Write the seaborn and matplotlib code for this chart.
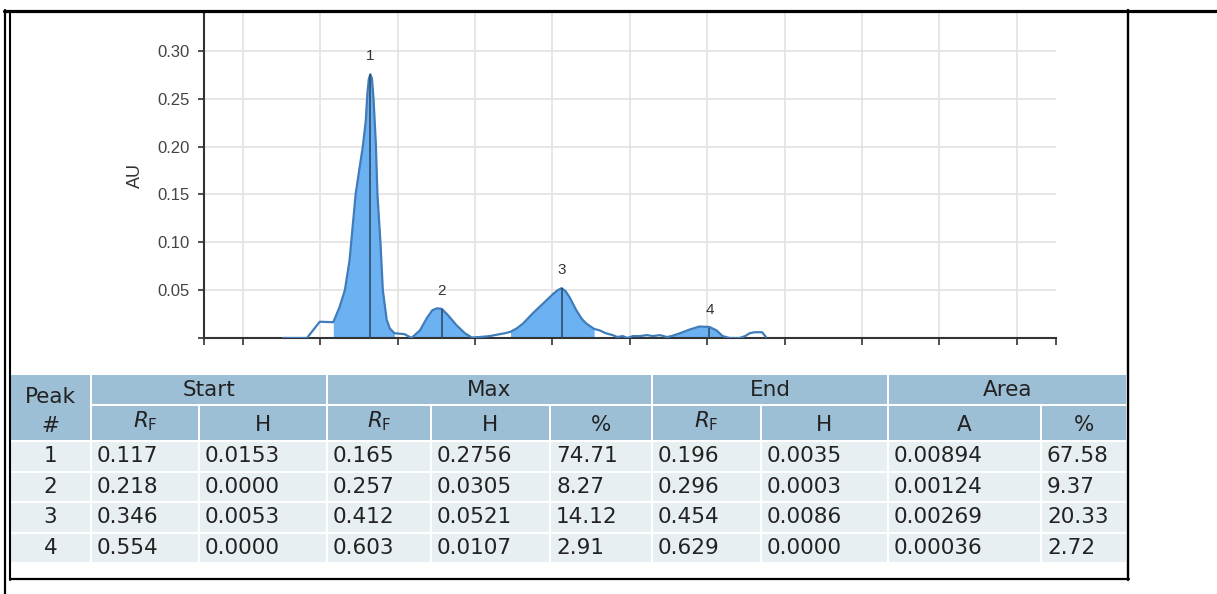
import numpy as np
import pandas as pd
import matplotlib
matplotlib.use("Agg")
import matplotlib.pyplot as plt
import seaborn as sns
from matplotlib.patches import Rectangle
from matplotlib.lines import Line2D

# ---------------- data ----------------
rf = [0.052, 0.083, 0.0995, 0.117, 0.125, 0.132, 0.138, 0.142, 0.146, 0.151,
      0.155, 0.159, 0.161, 0.163, 0.165, 0.167, 0.169, 0.172, 0.174, 0.178,
      0.181, 0.186, 0.190, 0.196, 0.209, 0.216, 0.218, 0.229, 0.238, 0.245,
      0.251, 0.257, 0.265, 0.276, 0.287, 0.296, 0.306, 0.319, 0.332, 0.339,
      0.346, 0.354, 0.362, 0.375, 0.388, 0.401, 0.407, 0.412, 0.417, 0.422,
      0.431, 0.438, 0.444, 0.454, 0.461, 0.469, 0.478, 0.484, 0.491, 0.497,
      0.504, 0.513, 0.522, 0.530, 0.539, 0.548, 0.554, 0.565, 0.578, 0.590,
      0.603, 0.612, 0.620, 0.629, 0.642, 0.649, 0.655, 0.661, 0.671, 0.676]
au = [0.000, 0.000, 0.017, 0.0165, 0.032, 0.050, 0.081, 0.116, 0.151, 0.178,
      0.199, 0.227, 0.255, 0.271, 0.2756, 0.271, 0.250, 0.203, 0.151, 0.099,
      0.050, 0.019, 0.010, 0.005, 0.004, 0.001, 0.000, 0.008, 0.021, 0.029,
      0.031, 0.0305, 0.024, 0.0135, 0.005, 0.0005, 0.001, 0.002, 0.004, 0.005,
      0.0065, 0.010, 0.015, 0.026, 0.036, 0.046, 0.050, 0.0521, 0.049, 0.043,
      0.029, 0.020, 0.015, 0.0095, 0.008, 0.005, 0.003, 0.001, 0.002, 0.000,
      0.002, 0.002, 0.003, 0.002, 0.003, 0.001, 0.002, 0.005, 0.009, 0.012,
      0.0115, 0.008, 0.002, 0.000, 0.000, 0.002, 0.005, 0.006, 0.006, 0.001]

peak_ids = [1, 2, 3, 4]
start_rf = [0.117, 0.218, 0.346, 0.554]
start_h = [0.0153, 0.0000, 0.0053, 0.0000]
max_rf = [0.165, 0.257, 0.412, 0.603]
max_h = [0.2756, 0.0305, 0.0521, 0.0107]
max_pct = [74.71, 8.27, 14.12, 2.91]
end_rf = [0.196, 0.296, 0.454, 0.629]
end_h = [0.0035, 0.0003, 0.0086, 0.0000]
area_a = [0.00894, 0.00124, 0.00269, 0.00036]
area_pct = [67.58, 9.37, 20.33, 2.72]

y_ticks = [0.0, 0.05, 0.10, 0.15, 0.20, 0.25, 0.30]
x_grid = [0.0, 0.1, 0.2, 0.3, 0.4, 0.5, 0.6, 0.7, 0.8, 0.9, 1.0]

group_labels = ["Start", "Max", "End", "Area"]
sub_labels = [r"$\mathit{R}_\mathrm{F}$", "H", r"$\mathit{R}_\mathrm{F}$", "H", "%",
              r"$\mathit{R}_\mathrm{F}$", "H", "A", "%"]

# ---------------- style ----------------
sns.set_style("white")
plt.rcParams["font.family"] = ["Liberation Sans", "DejaVu Sans"]
plt.rcParams["mathtext.fontset"] = "dejavusans"

W, H = 1217, 594
fig = plt.figure(figsize=(W / 100, H / 100), dpi=100)
fig.patch.set_facecolor("white")

def px_box(x0, y0, x1, y1):
    return [x0 / W, (H - y1) / H, (x1 - x0) / W, (y1 - y0) / H]

ax = fig.add_axes(px_box(204, 12.7, 1055.5, 338))

line_col = "#3f7cb9"
fill_col = "#6cb2f3"
peak_col = "#2c4d6d"
grid_col = "#e2e2e2"

df = pd.DataFrame({"Rf": rf, "AU": au})
x = np.array(rf)
y = np.array(au)
for s, e in zip(start_rf, end_rf):
    m = (x >= s - 1e-9) & (x <= e + 1e-9)
    ax.fill_between(x[m], 0, y[m], color=fill_col, lw=0, zorder=2)

sns.lineplot(data=df, x="Rf", y="AU", ax=ax, color=line_col, linewidth=1.6,
             estimator=None, sort=False, zorder=3)

for pid, mx, mh in zip(peak_ids, max_rf, max_h):
    ax.vlines(mx, 0, mh, color=peak_col, linewidth=1.2, zorder=4)
    ax.annotate(str(pid), (mx, mh), xytext=(0, 8), textcoords="offset points",
                ha="center", va="bottom", fontsize=11, color="#333333")

ax.set_xlim(-0.05, 1.05)
ax.set_ylim(0, 0.34)
for gx in x_grid:
    ax.axvline(gx, color=grid_col, lw=1.2, zorder=0)
for gy in y_ticks[1:]:
    ax.axhline(gy, color=grid_col, lw=1.2, zorder=0)

ax.set_xticks([-0.05] + x_grid + [1.05])
ax.set_xticklabels([])
ax.set_yticks(y_ticks)
ax.set_yticklabels([""] + [f"{v:.2f}" for v in y_ticks[1:]])
ax.tick_params(axis="y", direction="out", length=4.5, width=1.2, color="#333333",
               labelsize=12, labelcolor="#444444", pad=5.5, left=True)
ax.tick_params(axis="x", direction="out", length=5, width=1.2, color="#333333",
               bottom=True)
for sp in ["top", "right"]:
    ax.spines[sp].set_visible(False)
for sp in ["left", "bottom"]:
    ax.spines[sp].set_color("#333333")
    ax.spines[sp].set_linewidth(1.5)
ax.set_xlabel("")
ax.set_ylabel("AU", fontsize=13, color="#333333")
ax.yaxis.set_label_coords(-0.070, 0.5)

# ---------------- overlay (table + borders) ----------------
ov = fig.add_axes([0, 0, 1, 1])
ov.set_xlim(0, W)
ov.set_ylim(H, 0)
ov.axis("off")

hdr = "#9dbfd5"
row_bg = "#e8eff3"
txt = "#222222"
tfs = 15.5

cols = [10, 91, 199, 327, 431, 550, 652, 761, 888, 1041, 1127]
groups = [(1, 3), (3, 6), (6, 8), (8, 10)]
h1 = (374, 405)
h2 = (405, 441)
rows = [(441, 471.5), (471.5, 502), (502, 532.5), (532.5, 563)]

def cell(x0, x1, y0, y1, color):
    ov.add_patch(Rectangle((x0 + 1, y0 + 1), x1 - x0 - 2, y1 - y0 - 2,
                           facecolor=color, edgecolor="none"))

# Peak # header cell (spans two rows)
cell(cols[0], cols[1], h1[0], h2[1], hdr)
ov.text((cols[0] + cols[1]) / 2, 397, "Peak", ha="center", va="center",
        fontsize=tfs, color=txt, family="DejaVu Sans")
ov.text((cols[0] + cols[1]) / 2, 426, "#", ha="center", va="center",
        fontsize=tfs, color=txt, family="DejaVu Sans")
for (a, b), lab in zip(groups, group_labels):
    cell(cols[a], cols[b], h1[0], h1[1], hdr)
    ov.text((cols[a] + cols[b]) / 2, (h1[0] + h1[1]) / 2, lab, ha="center",
            va="center", fontsize=tfs, color=txt, family="DejaVu Sans")
for i, lab in enumerate(sub_labels):
    a, b = cols[i + 1], cols[i + 2]
    cell(a, b, h2[0], h2[1], hdr)
    yy = 421 if "R" in lab else 425
    ov.text((a + b) / 2, yy, lab, ha="center", va="center",
            fontsize=tfs, color=txt, family="DejaVu Sans")

table_cols = [
    [f"{v:.3f}" for v in start_rf], [f"{v:.4f}" for v in start_h],
    [f"{v:.3f}" for v in max_rf], [f"{v:.4f}" for v in max_h],
    [f"{v:.2f}" for v in max_pct],
    [f"{v:.3f}" for v in end_rf], [f"{v:.4f}" for v in end_h],
    [f"{v:.5f}" for v in area_a], [f"{v:.2f}" for v in area_pct],
]
for r, (y0, y1) in enumerate(rows):
    cy = (y0 + y1) / 2
    cell(cols[0], cols[1], y0, y1, row_bg)
    ov.text((cols[0] + cols[1]) / 2, cy, str(peak_ids[r]), ha="center",
            va="center", fontsize=tfs, color=txt, family="DejaVu Sans")
    for c, vals in enumerate(table_cols):
        a, b = cols[c + 1], cols[c + 2]
        cell(a, b, y0, y1, row_bg)
        ov.text(a + 6, cy, vals[r], ha="left", va="center", fontsize=tfs,
                color=txt, family="DejaVu Sans")

# borders
k = "black"
ov.add_line(Line2D([4, W], [10.5, 10.5], color=k, lw=2.3))
ov.add_line(Line2D([5, 5], [9.5, H], color=k, lw=1.6))
ov.add_line(Line2D([10, 10], [11, 580], color=k, lw=1.5))
ov.add_line(Line2D([1128, 1128], [10, 580], color=k, lw=1.7))
ov.add_line(Line2D([10, 1128.8], [579, 579], color=k, lw=1.6))

fig.savefig("out.png", dpi=100, facecolor="white")
